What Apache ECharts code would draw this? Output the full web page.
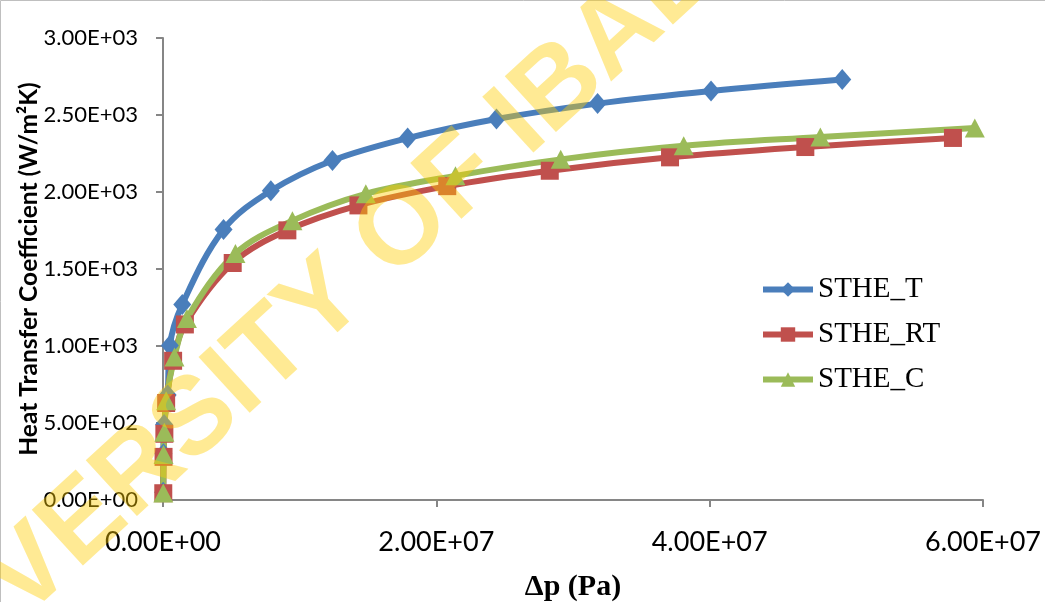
<!DOCTYPE html>
<html>
<head>
<meta charset="utf-8">
<script src="https://cdn.jsdelivr.net/npm/echarts@6/dist/echarts.min.js"></script>
<style>
  html, body { margin: 0; padding: 0; background: #fff; }
  #chart { width: 1045px; height: 602px; }
</style>
</head>
<body>
<div id="chart"></div>
<script>
// pressure drop (Pa) and heat transfer coefficient (W/m2K)
const dpT  = [0.01e6, 0.03e6, 0.08e6, 0.34e6, 0.5e6, 1.41e6, 4.43e6, 7.89e6, 12.4e6, 17.9e6, 24.4e6, 31.8e6, 40.1e6, 49.7e6];
const hT   = [50, 300, 490, 682, 1003, 1270, 1756, 2008, 2205, 2350, 2474, 2574, 2656, 2730];

const dpRT = [0.02e6, 0.04e6, 0.1e6, 0.23e6, 0.74e6, 1.6e6, 5.1e6, 9.1e6, 14.3e6, 20.8e6, 28.3e6, 37.1e6, 47.0e6, 57.8e6];
const hRT  = [44, 280, 430, 630, 904, 1140, 1539, 1751, 1913, 2038, 2138, 2225, 2292, 2351];

const dpC  = [0.02e6, 0.04e6, 0.1e6, 0.23e6, 0.84e6, 1.75e6, 5.3e6, 9.47e6, 14.84e6, 21.4e6, 29.1e6, 38.1e6, 48.1e6, 59.4e6];
const hC   = [45, 295, 440, 645, 929, 1178, 1601, 1814, 1988, 2105, 2212, 2300, 2357, 2416];

const seriesNames = ['STHE_T', 'STHE_RT', 'STHE_C'];
const colors = ['#4A7EBB', '#C0504D', '#9BBB59'];

function sci(v) {
  if (v === 0) return '0.00E+00';
  const e = Math.floor(Math.log10(Math.abs(v)));
  const m = v / Math.pow(10, e);
  return m.toFixed(2) + 'E' + (e < 0 ? '-' : '+') + String(Math.abs(e)).padStart(2, '0');
}

function pairs(xs, ys) {
  return xs.map((x, i) => [x, ys[i]]);
}

function lineSeries(i, xs, ys, symbol, size) {
  return {
    name: seriesNames[i],
    type: 'line',
    smooth: 0.35,
    data: pairs(xs, ys),
    symbol: symbol,
    symbolSize: size,
    lineStyle: { width: 6, color: colors[i] },
    itemStyle: { color: colors[i] },
    emphasis: { disabled: true }
  };
}

const chart = echarts.init(document.getElementById('chart'), null, { renderer: 'canvas' });

const option = {
  backgroundColor: '#fff',
  animation: false,
  color: colors,
  grid: { left: 163, right: 62, top: 38, bottom: 102, outerBoundsMode: 'none' },
  legend: {
    orient: 'vertical',
    left: 755,
    top: 270,
    itemWidth: 50,
    itemHeight: 18,
    itemGap: 16,
    lineStyle: { width: 6 },
    textStyle: { fontFamily: 'Liberation Serif', fontSize: 29, color: '#000' },
    data: seriesNames
  },
  xAxis: {
    type: 'value',
    min: 0,
    max: 6e7,
    interval: 2e7,
    name: 'Δp (Pa)',
    nameLocation: 'middle',
    nameGap: 72,
    nameTextStyle: { fontFamily: 'Liberation Serif', fontWeight: 'bold', fontSize: 30, color: '#000' },
    axisLine: { lineStyle: { color: '#868686', width: 2 } },
    axisTick: { show: true, length: 7, lineStyle: { color: '#868686', width: 2 } },
    axisLabel: { formatter: sci, fontFamily: 'Lato', fontSize: 27, color: '#000', margin: 29 },
    splitLine: { show: false }
  },
  yAxis: {
    type: 'value',
    min: 0,
    max: 3000,
    interval: 500,
    name: 'Heat Transfer Coefficient (W/m²K)',
    nameLocation: 'middle',
    nameGap: 121,
    nameMoveOverlap: false,
    nameTextStyle: { fontFamily: 'Lato', fontWeight: 'bold', fontSize: 24.5, color: '#000' },
    axisLine: { show: true, lineStyle: { color: '#868686', width: 2 } },
    axisTick: { show: true, length: 7, lineStyle: { color: '#868686', width: 2 } },
    axisLabel: { formatter: sci, fontFamily: 'Lato', fontSize: 22, color: '#000', margin: 25 },
    splitLine: { show: false }
  },
  series: [
    lineSeries(0, dpT, hT, 'diamond', [18, 21]),
    lineSeries(1, dpRT, hRT, 'rect', 18),
    lineSeries(2, dpC, hC, 'triangle', [20, 19])
  ],
  graphic: [
    {
      type: 'rect',
      shape: { x: 0.5, y: 0.5, width: 1200, height: 900 },
      style: { fill: 'none', stroke: '#BFBFBF', lineWidth: 1 },
      silent: true
    },
    {
      type: 'text',
      x: 343,
      y: 286,
      rotation: 0.742,
      z: 100,
      silent: true,
      style: {
        text: 'UNIVERSITY OF IBADAN',
        fontFamily: 'Liberation Sans',
        fontWeight: 'bold',
        fontSize: 110,
        fill: 'rgba(255, 204, 0, 0.42)',
        align: 'center',
        verticalAlign: 'middle'
      }
    }
  ]
};

chart.setOption(option);
</script>
</body>
</html>
